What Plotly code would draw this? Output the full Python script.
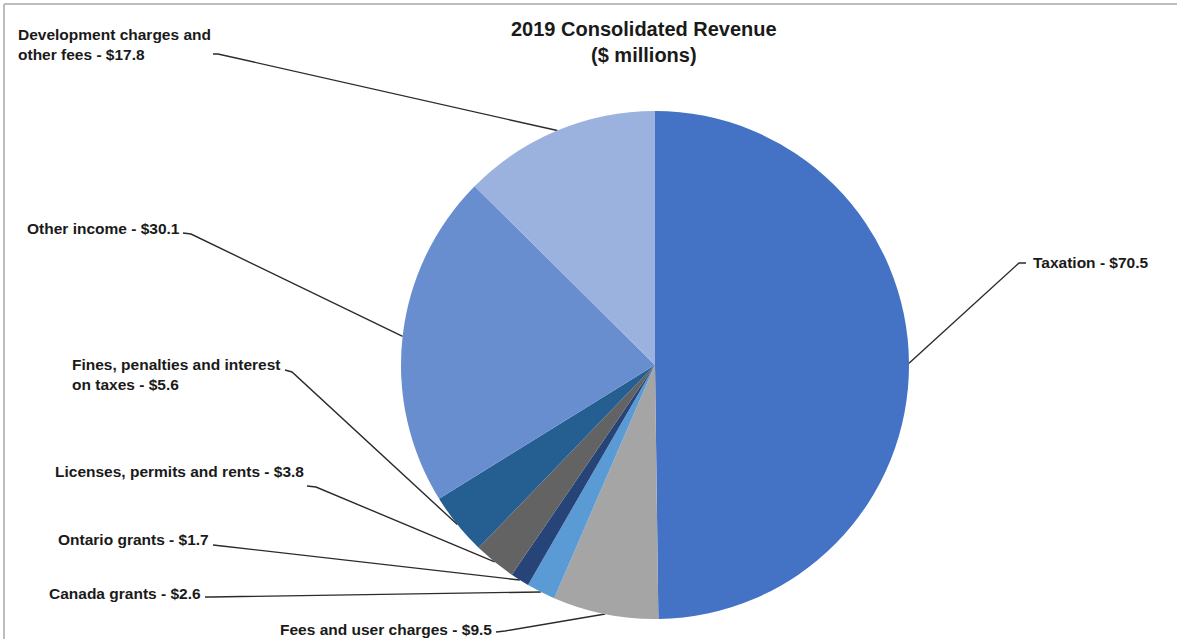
import math
import plotly.graph_objects as go

W, H = 1177, 639

# Revenue categories ($ millions), clockwise from 12 o'clock
categories = [
    "Taxation",
    "Fees and user charges",
    "Canada grants",
    "Ontario grants",
    "Licenses, permits and rents",
    "Fines, penalties and interest<br>on taxes",
    "Other income",
    "Development charges and<br>other fees",
]
values = [70.5, 9.5, 2.6, 1.7, 3.8, 5.6, 30.1, 17.8]
colors = ["#4472C4", "#A5A5A5", "#5B9BD5", "#264478",
          "#636363", "#255E91", "#698ED0", "#9BB2DE"]

title_lines = ["2019 Consolidated Revenue", "($ millions)"]

# Pie placement (pixels)
CX, CY, R = 655, 365, 254

# Label placement: (x, y, xanchor) and leader start / elbow points (pixels)
label_pos = [
    (1031, 262, "left"),
    (494, 629, "right"),
    (203, 593, "right"),
    (211, 539, "right"),
    (306, 471, "right"),
    (70, 374, "left"),
    (25, 228, "left"),
    (16, 44, "left"),
]
leader_start = [
    [(1026, 263), (1019, 263)],
    [(496, 632), (505, 631)],
    [(205, 597), (212, 597)],
    [(213, 545), (222, 546)],
    [(307, 486), (316, 487)],
    [(285, 370), (292, 372)],
    [(183, 233), (191, 234)],
    [(213, 54), (218, 54)],
]

FONT = "Liberation Sans, Arial, sans-serif"

fig = go.Figure()

fig.add_trace(go.Pie(
    labels=categories,
    values=values,
    sort=False,
    direction="clockwise",
    rotation=0,
    marker=dict(colors=colors, line=dict(width=0)),
    textinfo="none",
    hoverinfo="label+value",
    showlegend=False,
    domain=dict(x=[(CX - R) / W, (CX + R) / W],
                y=[(H - CY - R) / H, (H - CY + R) / H]),
))

# Leader lines: from each label to the middle of its slice on the rim
total = sum(values)
cum = 0.0
for i, v in enumerate(values):
    mid = (cum + v / 2) / total * 2 * math.pi
    cum += v
    ex = CX + R * math.sin(mid)
    ey = CY - R * math.cos(mid)
    pts = leader_start[i] + [(ex, ey)]
    fig.add_trace(go.Scatter(
        x=[p[0] for p in pts], y=[p[1] for p in pts],
        mode="lines", line=dict(color="#2b2b2b", width=1.4),
        hoverinfo="skip", showlegend=False,
    ))

annotations = []
for name, v, (x, y, anchor) in zip(categories, values, label_pos):
    annotations.append(dict(
        x=x, y=y, xref="x", yref="y", xanchor=anchor, yanchor="middle",
        align="left", showarrow=False,
        text=f"<b>{name} - ${v:.1f}</b>",
        font=dict(family=FONT, size=15.5, color="#1a1a1a"),
    ))

annotations.append(dict(
    x=644, y=42, xref="x", yref="y", xanchor="center", yanchor="middle",
    align="center", showarrow=False,
    text="<br>".join(f"<b>{t}</b>" for t in title_lines),
    font=dict(family=FONT, size=20, color="#1a1a1a"),
))

fig.update_layout(
    width=W, height=H,
    margin=dict(l=0, r=0, t=0, b=0),
    paper_bgcolor="white", plot_bgcolor="white",
    xaxis=dict(range=[0, W], visible=False, domain=[0, 1], fixedrange=True),
    yaxis=dict(range=[H, 0], visible=False, domain=[0, 1], fixedrange=True),
    annotations=annotations,
    shapes=[
        dict(type="line", xref="paper", yref="paper",
             x0=4 / W, y0=1 - 4 / H, x1=1, y1=1 - 4 / H,
             line=dict(color="#bdbdbd", width=2), layer="below"),
        dict(type="line", xref="paper", yref="paper",
             x0=4 / W, y0=1 - 4 / H, x1=4 / W, y1=0,
             line=dict(color="#bdbdbd", width=2), layer="below"),
    ],
)

fig.write_html("out.html")
